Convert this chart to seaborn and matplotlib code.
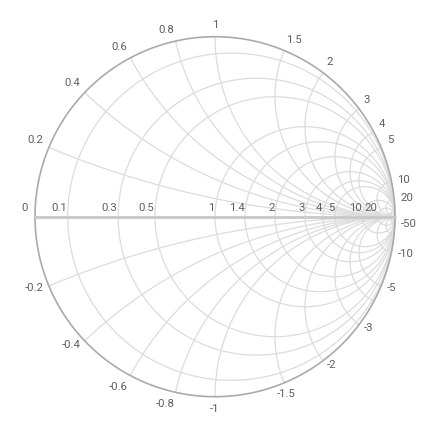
import numpy as np
import pandas as pd
import seaborn as sns
import matplotlib.pyplot as plt

# grid values of the Smith chart
resistance_grid = [0.1, 0.3, 0.5, 1, 1.4, 2, 3, 4, 5, 10, 20, 50]
reactance_grid = [0.2, 0.4, 0.6, 0.8, 1, 1.5, 2, 3, 4, 5, 10, 20, 50]

# labels that are actually shown
resistance_labels = [0, 0.1, 0.3, 0.5, 1, 1.4, 2, 3, 4, 5, 10, 20]
reactance_labels_pos = [0.2, 0.4, 0.6, 0.8, 1, 1.5, 2, 3, 4, 5, 10, 20]
reactance_labels_neg = [-0.2, -0.4, -0.6, -0.8, -1, -1.5, -2, -3, -5, -10, -50]

sns.set_style('white')
plt.rcParams['font.family'] = ['Roboto', 'DejaVu Sans']

px = 1 / 180.0  # one pixel in reflection-coefficient units


def fmt(v):
    return ('%g' % v)


# build curves
rows = []
t = np.linspace(0, 2 * np.pi, 400)
for r in resistance_grid:
    c, rad = r / (r + 1), 1 / (r + 1)
    for xx, yy in zip(c + rad * np.cos(t), rad * np.sin(t)):
        rows.append(('r%g' % r, xx, yy))
for x in reactance_grid:
    a0 = np.mod(np.arctan2((x * x - 1) / x, -2), 2 * np.pi)
    s = np.linspace(a0, 1.5 * np.pi, 300)
    xs = 1 + np.cos(s) / x
    ys = 1 / x + np.sin(s) / x
    for xx, yy in zip(xs, ys):
        rows.append(('x%g' % x, xx, yy))
    for xx, yy in zip(xs, -ys):
        rows.append(('x-%g' % x, xx, yy))
grid_df = pd.DataFrame(rows, columns=['curve', 'gx', 'gy'])

outer_df = pd.DataFrame({'gx': np.cos(t), 'gy': np.sin(t)})
axis_df = pd.DataFrame({'gx': [-1, 1], 'gy': [0, 0]})

fig = plt.figure(figsize=(4.37, 4.36), dpi=100)
ax = fig.add_axes([0, 0, 1, 1])

sns.lineplot(data=grid_df, x='gx', y='gy', units='curve', estimator=None,
             sort=False, color='#dcdcdc', lw=0.9, ax=ax, legend=False)
sns.lineplot(data=outer_df, x='gx', y='gy', estimator=None, sort=False,
             color='#aaaaaa', lw=1.2, ax=ax)
sns.lineplot(data=axis_df, x='gx', y='gy', estimator=None, sort=False,
             color='#c8c8c8', lw=2.0, ax=ax)

lab_color = '#5f5f5f'
fs = 8.2

# resistance labels along the horizontal axis
for r in resistance_labels:
    gx = (r - 1) / (r + 1)
    pad = 7 if r == 0 else 0.5
    ax.text(gx - pad * px, 8.5 * px, fmt(r), ha='right', va='center',
            fontsize=fs, color=lab_color)

# reactance labels around the edge
for x in reactance_labels_pos + reactance_labels_neg:
    gx, gy = (x * x - 1) / (x * x + 1), 2 * x / (x * x + 1)
    cs, sn = gx, gy
    ax_, ay_ = gx + 6 * px * cs, gy + 6 * px * sn
    if cs < -0.15:
        ha = 'right'
    elif cs > 0.15:
        ha = 'left'
    else:
        ha = 'center'
    if sn > 0.3:
        ay_ += 5.5 * px
    elif sn < -0.85:
        ay_ -= 6 * px
        ha = 'right' if cs < -0.1 else 'center'
    ax.text(ax_, ay_, fmt(x), ha=ha, va='center', fontsize=fs, color=lab_color)

ax.set_xlim(-215 * px, 222 * px)
ax.set_ylim(-219.3 * px, 216.7 * px)
ax.set_aspect('auto')
ax.axis('off')

fig.savefig('out.png', dpi=100)
